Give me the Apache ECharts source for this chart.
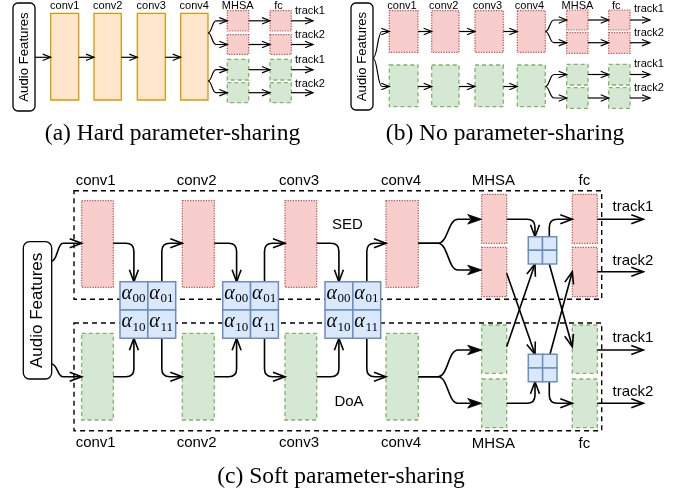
<!DOCTYPE html>
<html><head><meta charset="utf-8">
<script src="https://cdn.jsdelivr.net/npm/echarts@6/dist/echarts.min.js"></script>
<style>html,body{margin:0;padding:0;background:#fff}#c{width:681px;height:494px}</style>
</head><body><div id="c"></div>
<script>
// ---------- diagram data (x, y, w, h in canvas units) ----------
const groupBoxes = [[74,190.7,527.7,108.6],[74,323,527.7,107.7]];
const audioBoxes = [[13,3,22,108],[351,3,22,107],[23.3,241.7,28.4,137.3]];
const orangeBoxes = [[50.7,13.3,28,86.7],[94,13.3,27.3,86.7],[137.3,13.3,28,86.7],[180.7,13.3,27.3,86.7]];
const redBoxes = [
  [227.3,10.7,21.4,20.3],[227.3,34.7,21.4,19.6],[270,10.7,21.3,20.3],[270,34.7,21.3,19.6],
  [389.3,10.7,28.7,41.6],[431.7,10.7,27.3,41.6],[475,10.7,28.3,41.6],[517.3,10.7,28,41.6],
  [566.7,10,21.3,20],[566.7,32.7,21.3,20.6],[608.7,10,21.3,20],[608.7,32.7,21.3,20.6],
  [81.7,200.7,31.6,86.6],[182.3,200.7,32,86.6],[285,200.7,31.7,86.6],[386,200.7,32.3,86.6],
  [481.7,194.3,25,49],[481.7,247.3,25,49.4],[572.3,194.3,25,49],[572.3,247.3,25,49.4]
];
const greenBoxes = [
  [227.3,59.3,21.4,20.7],[227.3,82.7,21.4,20],[270,59.3,21.3,20.7],[270,82.7,21.3,20],
  [389.3,65,28.7,41.7],[431.7,65,27.3,41.7],[475,65,28.3,41.7],[517.3,65,28,41.7],
  [566.7,64.3,21.3,20.7],[566.7,87.7,21.3,20.6],[608.7,64.3,21.3,20.7],[608.7,87.7,21.3,20.6],
  [81.7,333.3,31.6,86.7],[182.3,333.3,32,86.7],[285,333.3,31.7,86.7],[386,333.3,32.3,86.7],
  [481.7,325,25,48.3],[481.7,379,25,48.7],[572.3,325,25,48.3],[572.3,379,25,48.7]
];
const weightMatrices = [[120,281.7,55.7,56.6],[222.7,281.7,55.7,56.6],[325,281.7,55.7,56.6]];
const smallMatrices = [[528.3,236.7,28.4,27.3],[528.3,354.3,28.7,27.4]];
const weightNames = [['00','01'],['10','11']];

// links: [kind, x1, y1, x2, y2, xa, xb]
const linksSmall = [
  ['line',35,57.3,50.7,57.3],['line',78.7,57.3,94,57.3],['line',121.3,57.3,137.3,57.3],['line',165.3,57.3,180.7,57.3],
  ['s',208,33,227.3,20.8,208,216],['s',208,33,227.3,44.5,208,216],['s',208,81,227.3,69.7,208,216],['s',208,81,227.3,92.7,208,216],
  ['line',248.7,20.8,270,20.8],['line',248.7,44.5,270,44.5],['line',248.7,69.7,270,69.7],['line',248.7,92.7,270,92.7],
  ['line',291.3,20.8,313,20.8],['line',291.3,44.5,313,44.5],['line',291.3,69.7,313,69.7],['line',291.3,92.7,313,92.7],
  ['s',373,58,389.3,31.5,373,382],['s',373,58,389.3,86.5,373,382],
  ['line',418,31.5,431.7,31.5],['line',459,31.5,475,31.5],['line',503.3,31.5,517.3,31.5],
  ['line',418,86.5,431.7,86.5],['line',459,86.5,475,86.5],['line',503.3,86.5,517.3,86.5],
  ['s',545.3,31.5,566.7,20,545.3,554],['s',545.3,31.5,566.7,42.7,545.3,554],
  ['s',545.3,86.5,566.7,74.5,545.3,554],['s',545.3,86.5,566.7,98,545.3,554],
  ['line',588,20,608.7,20],['line',588,42.7,608.7,42.7],['line',588,74.5,608.7,74.5],['line',588,98,608.7,98],
  ['line',630,20,650,20],['line',630,42.7,650,42.7],['line',630,74.5,650,74.5],['line',630,98,650,98]
];
const linksBig = [
  ['s',51.7,261,81.7,243.3,51.7,63],['s',51.7,364,81.7,376.7,51.7,63],
  ['hv',113.3,243.3,133.9,281.7],['vh',161.8,281.7,182.3,243.3],['hv',113.3,376.7,133.9,338.3],['vh',161.8,338.3,182.3,376.7],
  ['hv',214.3,243.3,236.6,281.7],['vh',264.5,281.7,285,243.3],['hv',214.3,376.7,236.6,338.3],['vh',264.5,338.3,285,376.7],
  ['hv',316.7,243.3,338.9,281.7],['vh',366.8,281.7,386,243.3],['hv',316.7,376.7,338.9,338.3],['vh',366.8,338.3,386,376.7],
  ['hv',506.7,219.3,535,236.7],['vh',549.3,236.7,572.3,219.3],
  ['hv',506.7,403.3,535,381.7],['vh',549.3,381.7,572.3,403.3],
  ['line',506.7,273.3,535,354.3],['line',506.7,346.7,535,264],['line',549.3,264,572.3,346.7],['line',550,354.3,572.3,271.7],
  ['line',597.3,219.3,643.3,219.3],['line',597.3,271.7,643.3,271.7],['line',597.3,350,643.3,350],['line',597.3,403.3,643.3,403.3]
];
const linksFilled = [
  ['s',418.3,243.3,481.7,219.3,438,458],['s',418.3,243.3,481.7,270,438,458],
  ['s',418.3,376.7,481.7,350,438,458],['s',418.3,376.7,481.7,403.3,438,458]
];

// text: [text, x, y]
const labelsSmall = [
  ['conv1',64.7,6],['conv2',107.7,6],['conv3',151.3,6],['conv4',194.3,6],['MHSA',237.7,6],['fc',278.5,6],
  ['track1',310,11],['track2',310,35.3],['track1',310,59.7],['track2',310,83.7],
  ['conv1',402,6],['conv2',443.7,6],['conv3',487.5,6],['conv4',529.5,6],['MHSA',577.5,6],['fc',616.3,6],
  ['track1',649,8.5],['track2',649,33.3],['track1',649,64],['track2',649,87.5]
];
const labelsBig = [
  ['conv1',95.7,180.5],['conv2',196.7,180.5],['conv3',299,180.5],['conv4',401,180.5],['MHSA',493.3,180.5],['fc',584.3,180.5],
  ['conv1',95.7,443],['conv2',196.7,443],['conv3',299,443],['conv4',401,443],['MHSA',493.3,443.5],['fc',584.3,443.5],
  ['SED',347.5,224.7],['DoA',349,402],
  ['track1',633,206.5],['track2',633,260.5],['track1',633,338.3],['track2',633,391.7]
];
const captions = [['(a) Hard parameter-sharing',172.5,134],['(b) No parameter-sharing',505,134],['(c) Soft parameter-sharing',341,477]];
const audioText = 'Audio Features';

// ---------- rendering ----------
const SANS = '"Liberation Sans", Arial, sans-serif';
const SERIF = '"Liberation Serif", "Times New Roman", serif';
const idx = arr => arr.map((d, i) => [i, i]);

function rectSeries(arr, style, r) {
  return {
    type: 'custom', clip: false, silent: true, data: idx(arr),
    renderItem: function (params, api) {
      const b = arr[params.dataIndex];
      const p = api.coord([b[0], b[1]]), q = api.coord([b[0] + b[2], b[1] + b[3]]);
      return {type: 'rect', shape: {x: p[0], y: p[1], width: q[0] - p[0], height: q[1] - p[1], r: r || 0}, style: style};
    }
  };
}

function linkSeries(arr, lw, headLen, headW, filled) {
  return {
    type: 'custom', clip: false, silent: true, data: idx(arr),
    renderItem: function (params, api) {
      const l = arr[params.dataIndex];
      const k = l[0];
      const a = api.coord([l[1], l[2]]), b = api.coord([l[3], l[4]]);
      const sx = Math.sign(b[0] - a[0]) || 1, sy = Math.sign(b[1] - a[1]) || 1;
      let dir, d;
      const r = 8;
      let ex = b[0], ey = b[1];
      if (k === 'line') {
        const len = Math.hypot(b[0] - a[0], b[1] - a[1]);
        dir = [(b[0] - a[0]) / len, (b[1] - a[1]) / len];
      } else if (k === 'hv') dir = [0, sy];
      else dir = [sx, 0];
      if (filled) { ex = b[0] - dir[0] * headLen * 0.8; ey = b[1] - dir[1] * headLen * 0.8; }
      if (k === 'line') {
        d = `M${a[0]},${a[1]} L${ex},${ey}`;
      } else if (k === 'hv') {
        d = `M${a[0]},${a[1]} L${b[0] - sx * r},${a[1]} Q${b[0]},${a[1]} ${b[0]},${a[1] + sy * r} L${ex},${ey}`;
      } else if (k === 'vh') {
        d = `M${a[0]},${a[1]} L${a[0]},${b[1] - sy * r} Q${a[0]},${b[1]} ${a[0] + sx * r},${b[1]} L${ex},${ey}`;
      } else {
        const xa = api.coord([l[5], l[2]])[0], xb = api.coord([l[6], l[2]])[0];
        const xm = (xa + xb) / 2;
        d = `M${a[0]},${a[1]} L${xa},${a[1]} C${xm},${a[1]} ${xm},${b[1]} ${xb},${b[1]} L${ex},${ey}`;
      }
      const n = [-dir[1], dir[0]];
      const bx = b[0] - dir[0] * headLen, by = b[1] - dir[1] * headLen;
      const h1 = [bx + n[0] * headW, by + n[1] * headW], h2 = [bx - n[0] * headW, by - n[1] * headW];
      const children = [{type: 'path', shape: {pathData: d}, style: {fill: 'none', stroke: '#000', lineWidth: lw, lineJoin: 'round'}}];
      if (filled) {
        children.push({type: 'polygon', shape: {points: [h1, [b[0], b[1]], h2, [b[0] - dir[0] * headLen * 0.75, b[1] - dir[1] * headLen * 0.75]]}, style: {fill: '#000', stroke: '#000', lineWidth: 0.8}});
      } else {
        children.push({type: 'polyline', shape: {points: [h1, [b[0], b[1]], h2]}, style: {fill: 'none', stroke: '#000', lineWidth: lw}});
      }
      return {type: 'group', children: children};
    }
  };
}

function textEl(x, y, text, font, rot) {
  return {type: 'text', x: x, y: y, rotation: rot || 0,
    style: {text: text, font: font, fill: '#000', align: 'center', verticalAlign: 'middle', textAlign: 'center', textVerticalAlign: 'middle'}};
}

function labelSeries(arr, font) {
  return {
    type: 'custom', clip: false, silent: true, data: idx(arr),
    renderItem: function (params, api) {
      const t = arr[params.dataIndex];
      const p = api.coord([t[1], t[2]]);
      return textEl(p[0], p[1], t[0], font);
    }
  };
}

const option = {
  animation: false,
  backgroundColor: '#fff',
  grid: {left: 0, right: 0, top: 0, bottom: 0},
  xAxis: {type: 'value', min: 0, max: 681, show: false},
  yAxis: {type: 'value', min: 0, max: 494, inverse: true, show: false},
  series: [
    rectSeries(groupBoxes, {fill: 'none', stroke: '#000', lineWidth: 1.4, lineDash: [5, 4]}),
    rectSeries(orangeBoxes, {fill: '#ffe6cc', stroke: '#d79b00', lineWidth: 1.3}),
    rectSeries(redBoxes, {fill: '#f8cecc', stroke: '#c0504d', lineWidth: 1.2, lineDash: [1.3, 1.3]}),
    rectSeries(greenBoxes, {fill: '#d5e8d4', stroke: '#82b366', lineWidth: 1.3, lineDash: [4, 3]}),
    {
      type: 'custom', clip: false, silent: true, data: idx(audioBoxes),
      renderItem: function (params, api) {
        const b = audioBoxes[params.dataIndex];
        const p = api.coord([b[0], b[1]]), q = api.coord([b[0] + b[2], b[1] + b[3]]);
        const w = q[0] - p[0], h = q[1] - p[1];
        const fs = w * 0.6;
        return {type: 'group', children: [
          {type: 'rect', shape: {x: p[0], y: p[1], width: w, height: h, r: w * 0.22}, style: {fill: '#fff', stroke: '#000', lineWidth: 1.3}},
          textEl(p[0] + w / 2, p[1] + h / 2, audioText, fs.toFixed(1) + 'px ' + SANS, Math.PI / 2)
        ]};
      }
    },
    linkSeries(linksSmall, 1.2, 8, 3.2, false),
    linkSeries(linksBig, 1.6, 12, 4.5, false),
    linkSeries(linksFilled, 1.6, 14, 4.8, true),
    {
      type: 'custom', clip: false, silent: true, data: idx(weightMatrices),
      renderItem: function (params, api) {
        const m = weightMatrices[params.dataIndex];
        const p = api.coord([m[0], m[1]]), q = api.coord([m[0] + m[2], m[1] + m[3]]);
        const w = (q[0] - p[0]) / 2, h = (q[1] - p[1]) / 2;
        const ch = [];
        for (let r = 0; r < 2; r++) for (let c = 0; c < 2; c++) {
          const x = p[0] + c * w, y = p[1] + r * h;
          ch.push({type: 'rect', shape: {x: x, y: y, width: w, height: h}, style: {fill: '#dae8fc', stroke: '#6c8ebf', lineWidth: 1.5}});
          ch.push({type: 'text', x: x + 1.5, y: y + 12, style: {text: 'α', font: 'italic 20px ' + SERIF, fill: '#000', align: 'left', verticalAlign: 'middle', textAlign: 'left', textVerticalAlign: 'middle'}});
          ch.push({type: 'text', x: x + 12.6, y: y + 17.2, style: {text: weightNames[r][c], font: '13px ' + SERIF, fill: '#000', align: 'left', verticalAlign: 'middle', textAlign: 'left', textVerticalAlign: 'middle'}});
        }
        return {type: 'group', children: ch};
      }
    },
    {
      type: 'custom', clip: false, silent: true, data: idx(smallMatrices),
      renderItem: function (params, api) {
        const m = smallMatrices[params.dataIndex];
        const p = api.coord([m[0], m[1]]), q = api.coord([m[0] + m[2], m[1] + m[3]]);
        const w = (q[0] - p[0]) / 2, h = (q[1] - p[1]) / 2;
        const ch = [];
        for (let r = 0; r < 2; r++) for (let c = 0; c < 2; c++) {
          ch.push({type: 'rect', shape: {x: p[0] + c * w, y: p[1] + r * h, width: w, height: h}, style: {fill: '#dae8fc', stroke: '#6c8ebf', lineWidth: 1.5}});
        }
        return {type: 'group', children: ch};
      }
    },
    labelSeries(labelsSmall, '11px ' + SANS),
    labelSeries(labelsBig, '15px ' + SANS),
    labelSeries(captions, '23.5px ' + SERIF)
  ]
};
const chart = echarts.init(document.getElementById('c'), null, {renderer: 'canvas'});
chart.setOption(option);
</script></body></html>
